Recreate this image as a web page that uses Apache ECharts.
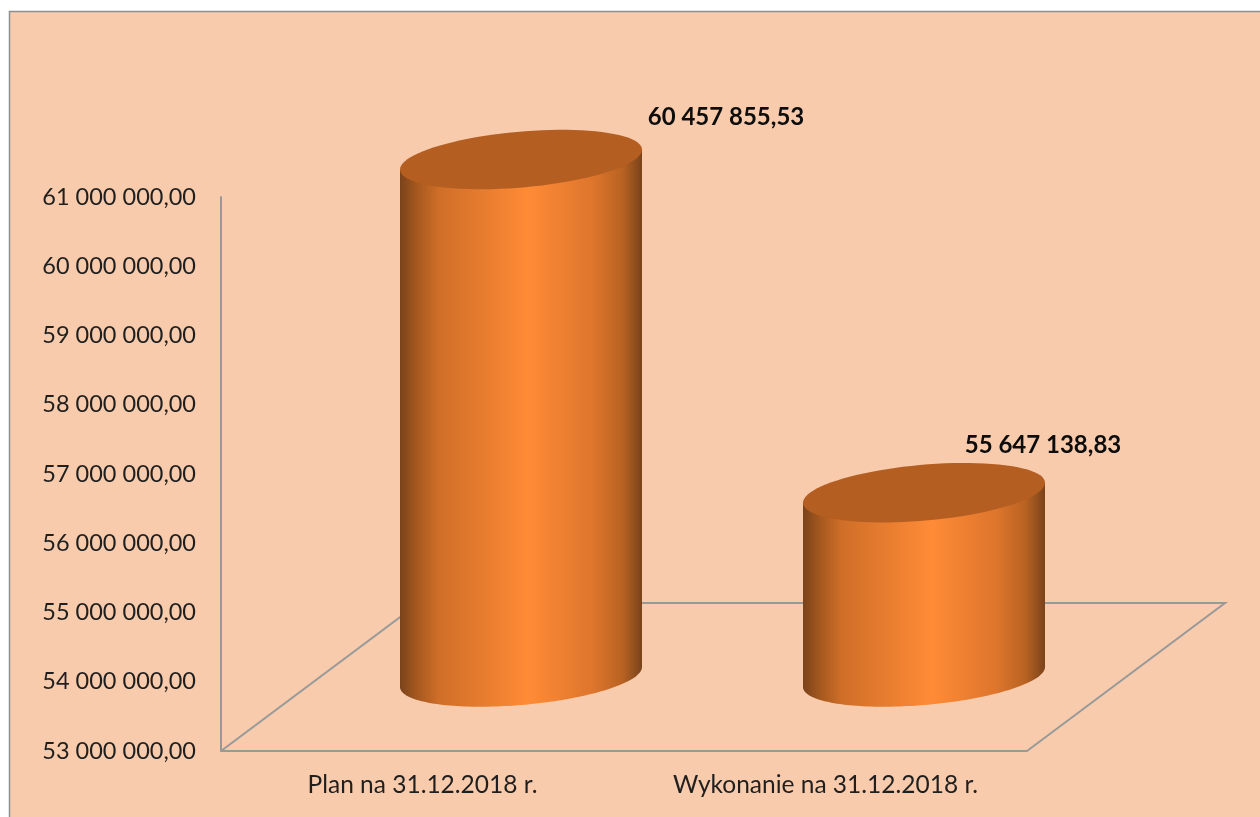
<!DOCTYPE html>
<html>
<head>
<meta charset="utf-8">
<style>html,body{margin:0;padding:0;background:#fff}#c{width:1260px;height:817px}</style>
<script src="https://cdn.jsdelivr.net/npm/echarts@6/dist/echarts.min.js"></script>
</head>
<body>
<div id="c"></div>
<script>
const categories = ['Plan na 31.12.2018 r.', 'Wykonanie na 31.12.2018 r.'];
const values = [60457855.53, 55647138.83];
const axisMin = 53000000;
const axisMax = 61000000;
const axisStep = 1000000;

const DEPTH = [198, -148];          // floor depth vector in pixels
const OFFSET = [98.5, -75];         // columns stand mid-way along the depth
const RX = 121, TILT = 10, RY = 28; // sheared ellipse of the cylinder caps
const LABEL_SHIFT = [[205, -42], [119, -47]];
const FONT = 'Lato, "Open Sans", sans-serif';
const GREY = '#989a9a';

function fmt(v) {
  const parts = v.toFixed(2).split('.');
  return parts[0].replace(/\B(?=(\d{3})+(?!\d))/g, ' ') + ',' + parts[1];
}
function ellipsePoint(c, t) {
  return [c[0] + RX * Math.cos(t), c[1] - TILT * Math.cos(t) + RY * Math.sin(t)];
}
function arcPoints(c, from, to) {
  const pts = [];
  for (let i = 0; i <= 90; i++) pts.push(ellipsePoint(c, from + (to - from) * i / 90));
  return pts;
}
const sideFill = {
  type: 'linear', x: 0, y: 0, x2: 1, y2: 0,
  colorStops: [
    { offset: 0, color: '#7a431b' },
    { offset: 0.07, color: '#a5581f' },
    { offset: 0.16, color: '#cf6e28' },
    { offset: 0.53, color: '#ff8b36' },
    { offset: 0.80, color: '#dd752c' },
    { offset: 0.92, color: '#b86222' },
    { offset: 1, color: '#7a431b' }
  ]
};

function renderFloor(params, api) {
  const s = params.coordSys;
  const fl = [s.x, s.y + s.height];
  const fr = [s.x + s.width, s.y + s.height];
  return {
    type: 'polyline',
    silent: true,
    shape: { points: [fl, [fl[0] + DEPTH[0], fl[1] + DEPTH[1]], [fr[0] + DEPTH[0], fr[1] + DEPTH[1]], fr] },
    style: { stroke: GREY, lineWidth: 2, fill: null }
  };
}
function renderCylinder(params, api) {
  const i = api.value(0);
  const topPt = api.coord([i, api.value(1)]);
  const basePt = api.coord([i, axisMin]);
  const top = [topPt[0] + OFFSET[0], topPt[1] + OFFSET[1]];
  const base = [basePt[0] + OFFSET[0], basePt[1] + OFFSET[1] + 1];
  const body = arcPoints(base, 0, Math.PI).concat([ellipsePoint(top, Math.PI), ellipsePoint(top, 0)]);
  const shift = LABEL_SHIFT[i];
  return {
    type: 'group',
    children: [
      { type: 'polygon', shape: { points: body }, style: { fill: sideFill } },
      { type: 'polygon', shape: { points: arcPoints(top, 0, Math.PI * 2) }, style: { fill: '#b55e22' } },
      { type: 'text', style: {
          text: fmt(api.value(1)), x: top[0] + shift[0], y: top[1] + shift[1],
          align: 'center', verticalAlign: 'middle',
          font: 'bold 24px ' + FONT, fill: '#0d0d0d'
      } }
    ]
  };
}

const chart = echarts.init(document.getElementById('c'), null, { renderer: 'canvas' });
chart.setOption({
  animation: false,
  backgroundColor: '#ffffff',
  graphic: [{
    type: 'rect', z: -10, silent: true,
    shape: { x: 9.5, y: 11.5, width: 1270, height: 830 },
    style: { fill: '#f7cbac', stroke: '#8f8f8f', lineWidth: 1.5 }
  }],
  grid: { left: 221, top: 197, width: 806, height: 554 },
  xAxis: {
    type: 'category', data: categories,
    axisLine: { show: true, lineStyle: { color: GREY, width: 2 } },
    axisTick: { show: false },
    axisLabel: { color: '#1f1f1f', fontFamily: FONT, fontSize: 24.5, margin: 22 }
  },
  yAxis: {
    type: 'value', min: axisMin, max: axisMax, interval: axisStep,
    splitLine: { show: false },
    axisLine: { show: true, lineStyle: { color: GREY, width: 2 } },
    axisTick: { show: false },
    axisLabel: { color: '#1f1f1f', fontFamily: FONT, fontSize: 23.5, margin: 25, formatter: fmt }
  },
  series: [
    { type: 'custom', coordinateSystem: 'cartesian2d', renderItem: renderFloor, data: [[0, axisMin]], z: 1, silent: true },
    { type: 'custom', coordinateSystem: 'cartesian2d', renderItem: renderCylinder,
      encode: { x: 0, y: 1 }, data: values.map((v, i) => [i, v]), z: 2, silent: true }
  ]
});
</script>
</body>
</html>
